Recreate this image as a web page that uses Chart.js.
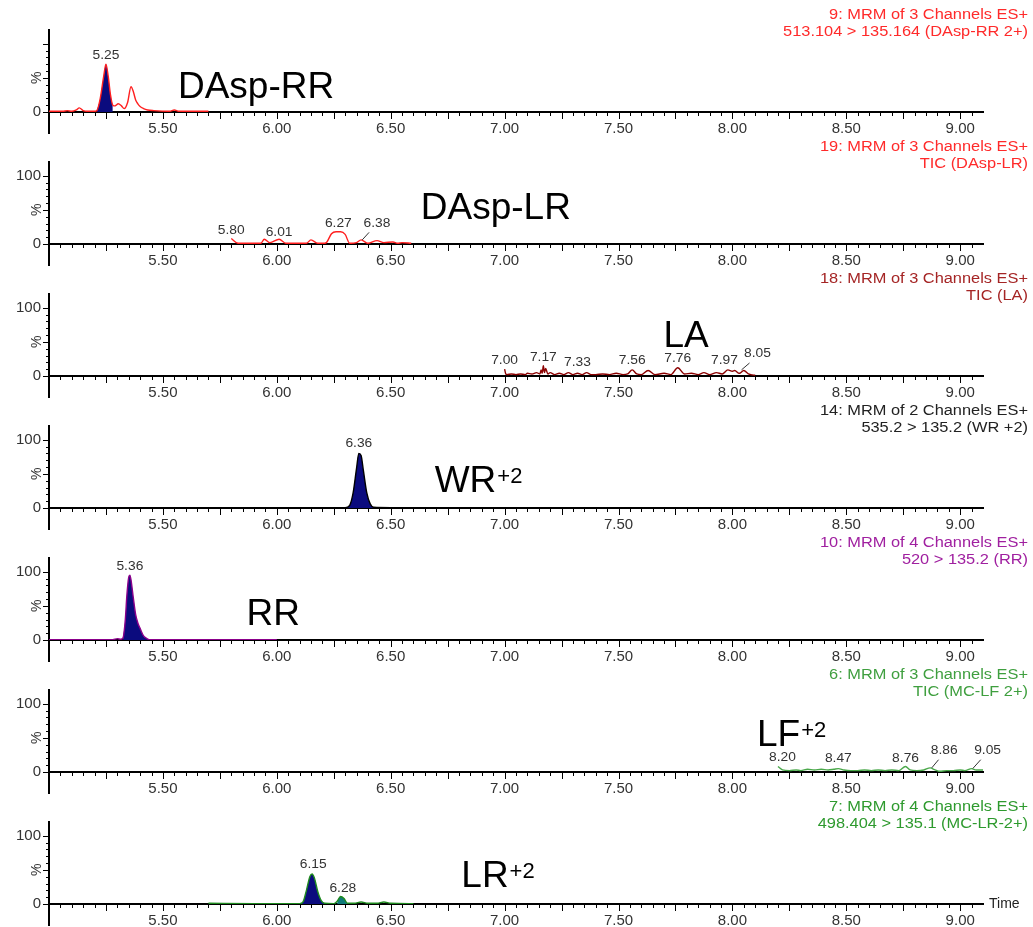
<!DOCTYPE html>
<html>
<head>
<meta charset="utf-8">
<script src="https://cdn.jsdelivr.net/npm/chart.js@4/dist/chart.umd.min.js"></script>
<style>
html, body { margin: 0; padding: 0; background: #fff; }
#wrap { position: relative; width: 1033px; height: 927px; overflow: hidden; }
#wrap canvas { position: absolute; left: 0; }
</style>
</head>
<body>
<div id="wrap"></div>
<script>
(function () {
	'use strict';

	var FONT = "Arial, 'Liberation Sans', sans-serif";
	var NAVY = '#0b0b7e';
	var TEAL = '#0f7a7a';

	// time axis (min), labels every 0.5
	var timeMin = 5.0, timeMax = 9.1;
	var timeLabels = ['5.50', '6.00', '6.50', '7.00', '7.50', '8.00', '8.50', '9.00'];

	// [time, %]
	var daspRRTrace = [[5.00, 1], [5.06, 1], [5.08, 2], [5.10, 1], [5.12, 3], [5.133, 6], [5.15, 2], [5.17, 1],
		[5.20, 1], [5.21, 2], [5.225, 20], [5.24, 52], [5.25, 70], [5.26, 52], [5.27, 25], [5.28, 10],
		[5.29, 9], [5.304, 12], [5.318, 9], [5.33, 5], [5.345, 14], [5.36, 37], [5.37, 30], [5.38, 18],
		[5.39, 12], [5.40, 8], [5.415, 5], [5.433, 3], [5.46, 2], [5.53, 1], [5.55, 3], [5.57, 1],
		[5.62, 1], [5.70, 1]];
	var daspLRTrace = [[5.80, 8], [5.83, 1], [5.93, 1], [5.945, 7], [5.97, 2], [6.01, 7], [6.04, 1], [6.13, 1],
		[6.15, 6], [6.18, 1], [6.21, 1], [6.22, 3], [6.24, 15], [6.26, 18], [6.28, 18], [6.30, 14],
		[6.32, 1], [6.35, 2], [6.37, 6], [6.40, 1], [6.44, 5], [6.47, 2], [6.51, 3], [6.53, 1],
		[6.55, 2], [6.59, 1]];
	var laTrace = [[7.00, 10], [7.005, 3], [7.01, 2], [7.03, 3], [7.05, 2], [7.07, 3], [7.09, 2], [7.10, 4],
		[7.12, 3], [7.14, 5], [7.155, 3], [7.16, 9], [7.165, 4], [7.17, 15], [7.175, 5], [7.18, 11],
		[7.19, 3], [7.20, 5], [7.22, 2], [7.24, 4], [7.26, 2], [7.28, 5], [7.30, 2], [7.32, 4],
		[7.34, 2], [7.36, 5], [7.38, 2], [7.40, 2], [7.43, 3], [7.46, 2], [7.49, 4], [7.52, 2],
		[7.54, 3], [7.56, 9], [7.58, 3], [7.60, 2], [7.63, 8], [7.66, 2], [7.70, 4], [7.73, 2],
		[7.76, 12], [7.79, 3], [7.82, 4], [7.85, 2], [7.875, 5], [7.90, 2], [7.93, 5], [7.955, 3],
		[7.98, 9], [8.00, 7], [8.01, 8], [8.03, 4], [8.05, 8], [8.07, 3], [8.08, 2], [8.10, 1]];
	var wrTrace = [[5.92, 0.5], [6.20, 0.5], [6.30, 0.5], [6.32, 4], [6.335, 22], [6.35, 58], [6.36, 80],
		[6.37, 77], [6.38, 55], [6.395, 22], [6.41, 6], [6.425, 1], [6.50, 0.5], [6.80, 0.5], [7.00, 0.5]];
	var rrTrace = [[5.00, 0.5], [5.28, 0.5], [5.30, 2], [5.315, 1], [5.325, 3], [5.335, 30], [5.342, 66],
		[5.35, 92], [5.355, 95], [5.36, 88], [5.37, 62], [5.38, 38], [5.39, 25], [5.40, 17], [5.415, 6],
		[5.43, 2], [5.44, 0.5], [5.70, 0.5], [6.00, 0.5]];
	var lfTrace = [[8.20, 8], [8.22, 3], [8.25, 2], [8.28, 3], [8.30, 2], [8.33, 4], [8.36, 3], [8.39, 4],
		[8.42, 3], [8.445, 4], [8.465, 5], [8.49, 3], [8.52, 2], [8.55, 2], [8.58, 3], [8.61, 2],
		[8.64, 3], [8.67, 2], [8.70, 3], [8.73, 2], [8.76, 8], [8.78, 3], [8.81, 2], [8.84, 3],
		[8.868, 6], [8.89, 3], [8.91, 1], [8.94, 2], [8.97, 2], [9.00, 3], [9.02, 2], [9.05, 5],
		[9.07, 3], [9.10, 3]];
	var lrTrace = [[5.70, 1], [5.90, 0.5], [6.10, 0.5], [6.115, 3], [6.13, 20], [6.145, 40], [6.155, 44],
		[6.165, 38], [6.18, 18], [6.195, 5], [6.21, 1], [6.25, 0.5], [6.265, 4], [6.28, 11], [6.295, 8],
		[6.31, 1], [6.34, 1], [6.37, 3], [6.40, 1], [6.44, 1], [6.47, 3], [6.50, 1], [6.60, 0.5]];

	// peak labels: [text, time, %]
	var daspRRPeaks = [['5.25', 5.25, 82]];
	var daspLRPeaks = [['5.80', 5.80, 19], ['6.01', 6.01, 17], ['6.27', 6.27, 29], ['6.38', 6.44, 29]];
	var laPeaks = [['7.00', 7.00, 23], ['7.17', 7.17, 27], ['7.33', 7.32, 19], ['7.56', 7.56, 22],
		['7.76', 7.76, 25], ['7.97', 7.965, 23], ['8.05', 8.11, 32]];
	var wrPeaks = [['6.36', 6.36, 94]];
	var rrPeaks = [['5.36', 5.355, 107]];
	var lfPeaks = [['8.20', 8.22, 21], ['8.47', 8.465, 19], ['8.76', 8.76, 19], ['8.86', 8.93, 31], ['9.05', 9.12, 31]];
	var lrPeaks = [['6.15', 6.16, 57], ['6.28', 6.29, 23]];

	// leader lines: [t1, %1, t2, %2]
	var daspLRLeaders = [[6.375, 6, 6.405, 17]];
	var laLeaders = [[8.04, 9, 8.075, 19]];
	var lfLeaders = [[8.875, 6, 8.905, 18], [9.055, 5, 9.09, 18]];

	var panels = [
		{ trace: daspRRTrace, color: '#ff1f1f', headColor: '#ff2a2a',
			head: ['9: MRM of 3 Channels ES+', '513.104 > 135.164 (DAsp-RR 2+)'],
			fills: [{ from: 5.21, to: 5.285, color: NAVY }], peaks: daspRRPeaks, leaders: [],
			name: ['DAsp-RR', '', 5.566, 21], show100: false },
		{ trace: daspLRTrace, color: '#ff1f1f', headColor: '#ff2a2a',
			head: ['19: MRM of 3 Channels ES+', 'TIC (DAsp-LR)'],
			fills: [], peaks: daspLRPeaks, leaders: daspLRLeaders,
			name: ['DAsp-LR', '', 6.632, 36], show100: true },
		{ trace: laTrace, color: '#8b0000', headColor: '#a52525',
			head: ['18: MRM of 3 Channels ES+', 'TIC (LA)'],
			fills: [], peaks: laPeaks, leaders: laLeaders,
			name: ['LA', '', 7.697, 42], show100: true },
		{ trace: wrTrace, color: '#000000', headColor: '#222222',
			head: ['14: MRM of 2 Channels ES+', '535.2 > 135.2 (WR +2)'],
			fills: [{ from: 6.30, to: 6.43, color: NAVY }], peaks: wrPeaks, leaders: [],
			name: ['WR', '+2', 6.693, 24], show100: true },
		{ trace: rrTrace, color: '#8b008b', headColor: '#a020a0',
			head: ['10: MRM of 4 Channels ES+', '520 > 135.2 (RR)'],
			fills: [{ from: 5.32, to: 5.44, color: NAVY }], peaks: rrPeaks, leaders: [],
			name: ['RR', '', 5.867, 22], show100: true },
		{ trace: lfTrace, color: '#4aa84a', headColor: '#3f9f3f',
			head: ['6: MRM of 3 Channels ES+', 'TIC (MC-LF 2+)'],
			fills: [], peaks: lfPeaks, leaders: lfLeaders,
			name: ['LF', '+2', 8.108, 38], show100: true },
		{ trace: lrTrace, color: '#1f8a1f', headColor: '#2e9a2e',
			head: ['7: MRM of 4 Channels ES+', '498.404 > 135.1 (MC-LR-2+)'],
			fills: [{ from: 6.10, to: 6.215, color: NAVY }, { from: 6.255, to: 6.31, color: TEAL }],
			peaks: lrPeaks, leaders: [],
			name: ['LR', '+2', 6.81, 25], show100: true, last: true }
	];

	function toXY(pts) {
		return pts.map(function (p) { return { x: p[0], y: p[1] }; });
	}

	function stretched(ctx, s, x, y, align, sx) {
		ctx.save();
		ctx.translate(x, y);
		ctx.scale(sx, 1);
		ctx.textAlign = align;
		ctx.fillText(s, 0, 0);
		ctx.restore();
	}

	function line(ctx, x1, y1, x2, y2) {
		ctx.beginPath();
		ctx.moveTo(x1, y1);
		ctx.lineTo(x2, y2);
		ctx.stroke();
	}

	var deco = {
		id: 'deco',
		afterDraw: function (chart) {
			var p = chart.options.plugins.deco.panel;
			var ctx = chart.ctx, xs = chart.scales.x, ys = chart.scales.y, ca = chart.chartArea;
			ctx.save();
			ctx.strokeStyle = '#000';
			ctx.lineWidth = 1;
			// time ticks
			for (var k = 101; k <= 181; k++) {
				var px = Math.round(xs.getPixelForValue(k / 20)) + 0.5;
				line(ctx, px, ca.bottom, px, ca.bottom + (k % 5 === 0 ? 7 : 4));
			}
			// % ticks
			for (var v = 0; v <= 100; v += 10) {
				var py = Math.round(ys.getPixelForValue(v)) + 0.5;
				line(ctx, ca.left - (v % 50 === 0 ? 6 : 3), py, ca.left, py);
			}
			ctx.lineWidth = 2;
			line(ctx, ca.left, ca.bottom, ca.left, chart.height);

			ctx.fillStyle = '#333';
			ctx.font = '14px ' + FONT;
			ctx.save();
			ctx.translate(ca.left - 12, ys.getPixelForValue(50));
			ctx.rotate(-Math.PI / 2);
			ctx.textAlign = 'center';
			ctx.textBaseline = 'middle';
			ctx.fillText('%', 0, 0);
			ctx.restore();

			// header
			ctx.fillStyle = p.headColor;
			ctx.font = '14px ' + FONT;
			ctx.textBaseline = 'middle';
			stretched(ctx, p.head[0], 1028, 13, 'right', 1.17);
			stretched(ctx, p.head[1], 1028, 30, 'right', 1.17);

			// peak labels
			ctx.fillStyle = '#333';
			ctx.font = '12px ' + FONT;
			p.peaks.forEach(function (pk) {
				stretched(ctx, pk[0], xs.getPixelForValue(pk[1]), ys.getPixelForValue(pk[2]), 'center', 1.15);
			});
			ctx.strokeStyle = '#333';
			ctx.lineWidth = 1;
			p.leaders.forEach(function (ld) {
				line(ctx, xs.getPixelForValue(ld[0]), ys.getPixelForValue(ld[1]),
					xs.getPixelForValue(ld[2]), ys.getPixelForValue(ld[3]));
			});

			// compound name
			var nx = xs.getPixelForValue(p.name[2]), ny = ys.getPixelForValue(p.name[3]);
			ctx.fillStyle = '#000';
			ctx.textBaseline = 'alphabetic';
			ctx.textAlign = 'left';
			ctx.font = '37px ' + FONT;
			ctx.fillText(p.name[0], nx, ny);
			if (p.name[1]) {
				var w = ctx.measureText(p.name[0]).width;
				ctx.font = '22px ' + FONT;
				ctx.fillText(p.name[1], nx + w + 1, ny - 9);
			}

			if (p.last) {
				ctx.font = '14px ' + FONT;
				ctx.textBaseline = 'middle';
				ctx.fillStyle = '#222';
				ctx.fillText('Time', ca.right + 6, ca.bottom);
			}
			ctx.restore();
		}
	};

	var wrap = document.getElementById('wrap');

	panels.forEach(function (p, idx) {
		var cv = document.createElement('canvas');
		cv.width = 1033;
		cv.height = 132;
		cv.style.top = (112 + 132 * idx - 110) + 'px';
		wrap.appendChild(cv);

		var datasets = p.fills.map(function (f) {
			return {
				data: toXY(p.trace.filter(function (pt) { return pt[0] >= f.from && pt[0] <= f.to; })),
				fill: 'origin', backgroundColor: f.color, borderWidth: 0, pointRadius: 0, order: 1,
				cubicInterpolationMode: 'monotone'
			};
		});
		datasets.push({
			data: toXY(p.trace), borderColor: p.color, borderWidth: 1.4, pointRadius: 0,
			fill: false, cubicInterpolationMode: 'monotone', order: 0
		});

		new Chart(cv, {
			type: 'line',
			data: { datasets: datasets },
			plugins: [deco],
			options: {
				responsive: false,
				animation: false,
				events: [],
				layout: { padding: { top: 28, right: 50, left: 0, bottom: 0 } },
				plugins: {
					legend: { display: false },
					tooltip: { enabled: false },
					deco: { panel: p }
				},
				scales: {
					x: {
						type: 'linear', min: timeMin, max: timeMax,
						grid: { display: false, drawTicks: false },
						border: { display: true, color: '#000', width: 2 },
						ticks: {
							stepSize: 0.05, maxTicksLimit: 200, autoSkip: false, maxRotation: 0,
							padding: 8, color: '#333', font: { size: 15, family: FONT },
							callback: function (val) {
								var s = (Math.round(val * 100) / 100).toFixed(2);
								return timeLabels.indexOf(s) >= 0 ? s : '';
							}
						},
						afterFit: function (s) { s.height = 22; }
					},
					y: {
						min: 0, max: 120,
						grid: { display: false, drawTicks: false },
						border: { display: true, color: '#000', width: 2 },
						ticks: {
							stepSize: 10, maxTicksLimit: 20, autoSkip: false, padding: 8,
							color: '#333', font: { size: 15, family: FONT },
							callback: function (val) {
								if (val === 0) return '0';
								if (val === 100 && p.show100) return '100';
								return '';
							}
						},
						afterFit: function (s) { s.width = 49; }
					}
				}
			}
		});
	});
})();
</script>
</body>
</html>
